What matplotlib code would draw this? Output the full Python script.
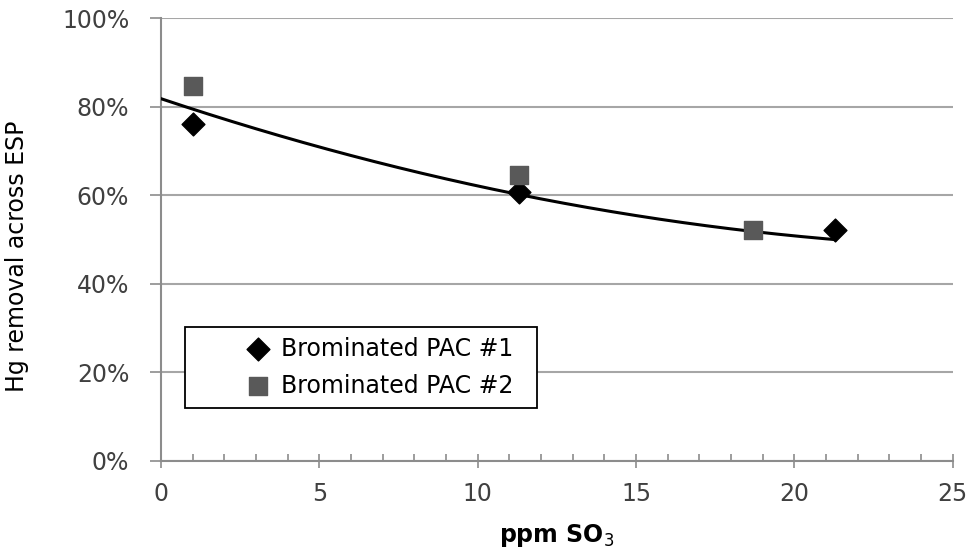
import numpy as np
import matplotlib
matplotlib.use("Agg")
import matplotlib.pyplot as plt
from matplotlib.patches import Rectangle
from matplotlib.ticker import MultipleLocator, FuncFormatter

# SO3 concentration (ppm) and Hg removal (%) for each sorbent
so3_pac1 = [1.0, 11.3, 21.3]
hg_pac1 = [76.0, 60.8, 52.1]
so3_pac2 = [1.0, 11.3, 18.7]
hg_pac2 = [84.7, 64.6, 52.1]

# points along the polynomial trendline
trend_x = [0.0, 5.3, 11.0, 13.9, 18.7, 21.3]
trend_y = [81.7, 70.6, 60.3, 56.7, 52.0, 49.9]

plt.rcParams['font.family'] = ['DejaVu Sans']

fig = plt.figure(figsize=(9.71, 5.5), dpi=100)
ax = fig.add_axes([0.166, 0.162, 0.815, 0.805])

coef = np.polyfit(trend_x, trend_y, 2)
xt = np.linspace(min(trend_x), max(trend_x), 200)
ax.plot(xt, np.polyval(coef, xt), color='black', lw=2.2, zorder=3)

ax.scatter(so3_pac1, hg_pac1, marker='D', s=135, color='black', zorder=4,
           label='Brominated PAC #1')
ax.scatter(so3_pac2, hg_pac2, marker='s', s=155, color='#595959', zorder=4,
           label='Brominated PAC #2')

ax.set_xlim(0, 25)
ax.set_ylim(0, 100)
ax.xaxis.set_major_locator(MultipleLocator(5))
ax.xaxis.set_minor_locator(MultipleLocator(1))
ax.yaxis.set_major_locator(MultipleLocator(20))
ax.yaxis.set_major_formatter(FuncFormatter(lambda v, p: f'{v:.0f}%'))
ax.grid(axis='y', color='#a6a6a6', lw=1.5)
ax.set_axisbelow(True)

for s in ['top', 'right']:
    ax.spines[s].set_visible(False)
for s in ['left', 'bottom']:
    ax.spines[s].set_color('#8c8c8c')
    ax.spines[s].set_linewidth(1.5)

ax.tick_params(axis='x', which='major', direction='inout', length=10, width=1.2,
               color='#8c8c8c', labelsize=17, labelcolor='#404040', pad=10)
ax.tick_params(axis='x', which='minor', direction='in', length=5, width=1.2,
               color='#8c8c8c')
ax.tick_params(axis='y', which='major', direction='out', length=8, width=1.2,
               color='#8c8c8c', labelsize=17, labelcolor='#404040', pad=15)

ax.set_xlabel('ppm SO$_3$', fontsize=17, fontweight='bold', labelpad=12)
ax.set_ylabel('Hg removal across ESP', fontsize=17)
ax.yaxis.set_label_coords(-0.167, 0.463)

# legend frame and entries
ax.add_patch(Rectangle((0.0303, 0.1196), 0.444, 0.1829, transform=ax.transAxes,
                       facecolor='white', edgecolor='black', lw=1.3, zorder=5))
leg = ax.legend(loc='center left', bbox_to_anchor=(0.08, 0.212), fontsize=17,
                frameon=False, handletextpad=0.0, labelspacing=0.55,
                scatterpoints=1, borderaxespad=0)
leg.set_zorder(6)

fig.savefig('out.png', dpi=100)
